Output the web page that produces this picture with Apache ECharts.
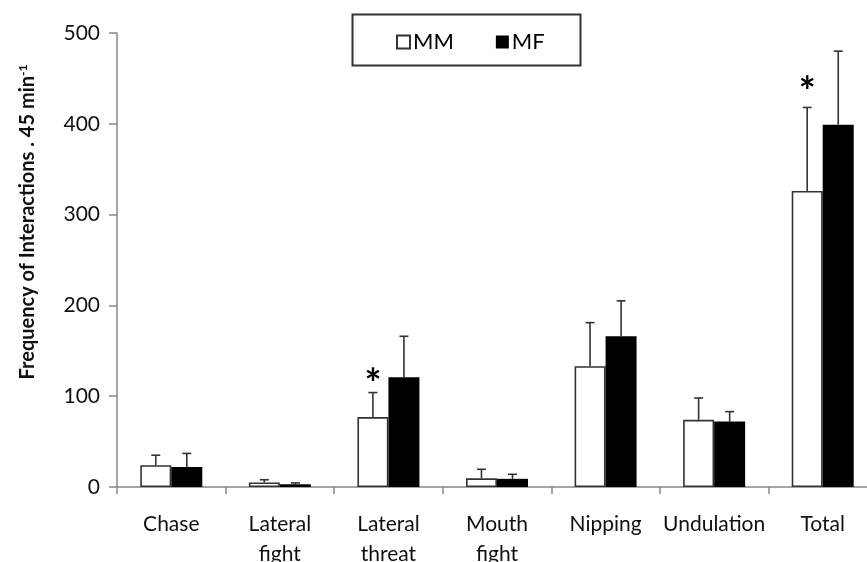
<!DOCTYPE html>
<html><head><meta charset="utf-8">
<script src="https://cdn.jsdelivr.net/npm/echarts@6/dist/echarts.min.js"></script>
<style>html,body{margin:0;padding:0;background:#fff}#c{width:867px;height:562px}</style>
</head><body><div id="c"></div>
<script>
const categories = ['Chase', 'Lateral\nfight', 'Lateral\nthreat', 'Mouth\nfight', 'Nipping', 'Undulation', 'Total'];
const mmValues = [24, 5, 77, 9.5, 133, 74, 326];
const mmErrTop = [35, 8, 104, 19.5, 181, 98, 418];
const mfValues = [22, 3, 121, 9, 166, 72, 399];
const mfErrTop = [37, 4.5, 166, 14, 205, 83, 480];
const sigY = [null, null, 118, null, null, null, 439];
const yTicks = [0, 100, 200, 300, 400, 500];

const FONT = 'Lato';
const chart = echarts.init(document.getElementById('c'));

function errSeries(name, tops, vals, side) {
  return {
    type: 'custom', name: name + ' err', silent: true, z: 5,
    data: tops.map((t, i) => [i, vals[i], t]),
    renderItem: function (params, api) {
      const i = api.value(0);
      const base = api.coord([i, api.value(1)]);
      const top = api.coord([i, api.value(2)]);
      const band = api.size([1, 0])[0];
      const x = base[0] + side * band * 0.143;
      const style = { stroke: '#333', lineWidth: 1.6 };
      return { type: 'group', children: [
        { type: 'line', shape: { x1: x, y1: base[1], x2: x, y2: top[1] }, style },
        { type: 'line', shape: { x1: x - 4.5, y1: top[1], x2: x + 4.5, y2: top[1] }, style }
      ]};
    }
  };
}

chart.setOption({
  animation: false,
  grid: { left: 117, top: 33, height: 454, width: 760, outerBoundsMode: 'none', containLabel: false },
  legend: {
    data: ['MM', 'MF'], left: 391, top: 26, itemGap: 42,
    itemWidth: 13, itemHeight: 13, icon: 'rect',
    textStyle: { fontFamily: FONT, fontSize: 22, color: '#000', padding: [0, 0, 0, -2] }
  },
  xAxis: {
    type: 'category', data: categories,
    axisLine: { lineStyle: { color: '#868686', width: 1.5 } },
    axisTick: { show: true, length: 7, lineStyle: { color: '#868686', width: 1.5 } },
    axisLabel: { fontFamily: FONT, fontSize: 21, color: '#111', margin: 22, lineHeight: 30, interval: 0 }
  },
  yAxis: {
    type: 'value', min: 0, max: 500, interval: 100,
    axisLine: { show: true, lineStyle: { color: '#868686', width: 1.5 } },
    axisTick: { show: true, length: 8, lineStyle: { color: '#868686', width: 1.5 } },
    splitLine: { show: false },
    axisLabel: { fontFamily: FONT, fontSize: 21, color: '#111', margin: 17,
      formatter: v => yTicks.includes(v) ? String(v) : '' }
  },
  graphic: [
    { type: 'rect', left: 350, top: 12, shape: { width: 228, height: 51 },
      style: { fill: 'none', stroke: '#333', lineWidth: 2 }, z: 10 },
    { type: 'text', x: 28, y: 222, rotation: Math.PI / 2,
      style: {
        text: '{a|Frequency of Interactions . 45 min}{s|-1}',
        align: 'center', verticalAlign: 'middle',
        rich: {
          a: { fontFamily: FONT, fontWeight: 'bold', fontSize: 20, fill: '#111' },
          s: { fontFamily: FONT, fontWeight: 'bold', fontSize: 12, fill: '#111', padding: [0, 0, 9, 0] }
        }
      } }
  ],
  series: [
    { name: 'MM', type: 'bar', data: mmValues, barWidth: 31, barGap: '0%',
      itemStyle: { color: '#fff', borderColor: '#333', borderWidth: 1.6 } },
    { name: 'MF', type: 'bar', data: mfValues, barWidth: 31, barGap: '0%',
      itemStyle: { color: '#000', borderColor: '#000', borderWidth: 0 } },
    errSeries('MM', mmErrTop, mmValues, -1),
    errSeries('MF', mfErrTop, mfValues, 1),
    { type: 'custom', name: 'sig', silent: true, z: 6,
      data: sigY.map((v, i) => [i, v]).filter(d => d[1] != null),
      renderItem: function (params, api) {
        const p = api.coord([api.value(0), api.value(1)]);
        const band = api.size([1, 0])[0];
        return { type: 'text', x: p[0] - band * 0.143, y: p[1] + 5,
          style: { text: '*', fontFamily: FONT, fontWeight: 'bold', fontSize: 40,
            fill: '#000', align: 'center', verticalAlign: 'middle' } };
      } }
  ]
});
</script></body></html>
